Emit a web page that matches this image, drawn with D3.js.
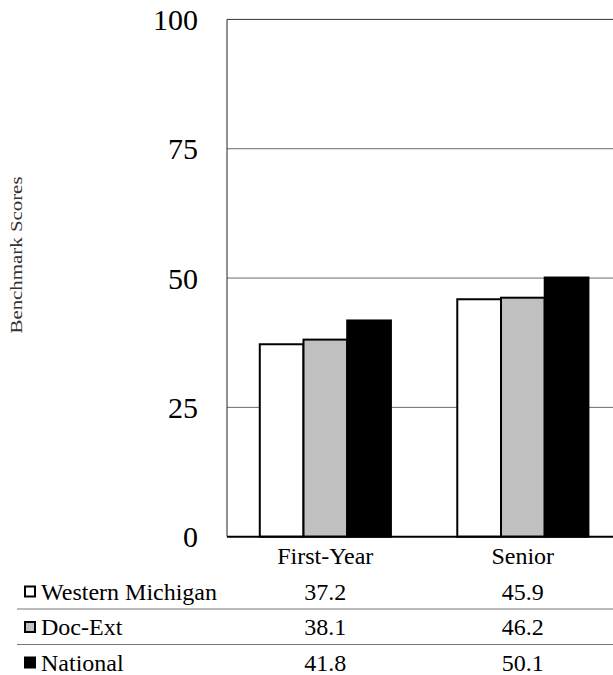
<!DOCTYPE html>
<html>
<head>
<meta charset="utf-8">
<script src="https://cdn.jsdelivr.net/npm/d3@7"></script>
<style>
  html, body { margin: 0; padding: 0; background: #fff; }
  svg { display: block; }
</style>
</head>
<body>
<svg id="chart" width="613" height="675" font-family="'Liberation Serif', Tinos, 'Times New Roman', Times, 'DejaVu Serif', serif"></svg>
<script>
const categories = ["First-Year", "Senior"];
const seriesNames = ["Western Michigan", "Doc-Ext", "National"];
const seriesColors = ["#ffffff", "#c0c0c0", "#000000"];
const westernMichigan = [37.2, 45.9];
const docExt = [38.1, 46.2];
const national = [41.8, 50.1];
const yTicks = [0, 25, 50, 75, 100];
const yLabel = "Benchmark Scores";

const seriesValues = [westernMichigan, docExt, national];

const FONT = "'Liberation Serif', Tinos, 'Times New Roman', Times, 'DejaVu Serif', serif";
const svg = d3.select("#chart");
const W = 613;
const plotLeft = 227, plotRight = 622, plotTop = 19.4, plotBottom = 536.7;

const y = d3.scaleLinear().domain([0, 100]).range([plotBottom, plotTop]);
const x0 = d3.scaleBand().domain(categories).range([plotLeft, plotRight]).padding(0);
const step = x0.bandwidth();
const x1 = d3.scaleBand().domain(seriesNames).range([step * 0.166, step * 0.830]).padding(0);

// gridlines
svg.append("g").selectAll("line")
  .data(yTicks.filter(t => t > 0))
  .join("line")
  .attr("x1", plotLeft).attr("x2", W)
  .attr("y1", d => y(d)).attr("y2", d => y(d))
  .attr("stroke", d => d === 100 ? "#333" : "#6a6a6a")
  .attr("stroke-width", 1);

// y axis line
svg.append("line")
  .attr("x1", plotLeft).attr("x2", plotLeft)
  .attr("y1", y(100)).attr("y2", y(0))
  .attr("stroke", "#222").attr("stroke-width", 1);

// bars
const groups = svg.append("g").selectAll("g")
  .data(categories)
  .join("g")
  .attr("transform", d => `translate(${x0(d)},0)`);

groups.selectAll("rect")
  .data((c, ci) => seriesNames.map((s, si) => ({ s, si, v: seriesValues[si][ci] })))
  .join("rect")
  .attr("x", d => x1(d.s))
  .attr("width", x1.bandwidth())
  .attr("y", d => y(d.v))
  .attr("height", d => y(0) - y(d.v))
  .attr("fill", d => seriesColors[d.si])
  .attr("stroke", "#000")
  .attr("stroke-width", 2);

// baseline
svg.append("line")
  .attr("x1", plotLeft).attr("x2", W)
  .attr("y1", y(0)).attr("y2", y(0))
  .attr("stroke", "#000").attr("stroke-width", 2);

// y tick labels
svg.append("g").selectAll("text")
  .data(yTicks)
  .join("text")
  .attr("x", 198)
  .attr("y", d => y(d))
  .attr("dy", "0.35em")
  .attr("text-anchor", "end")
  .attr("font-family", FONT)
  .attr("font-size", 30)
  .text(d => d);

// y axis title
svg.append("text")
  .attr("transform", "translate(22,255) rotate(-90)")
  .attr("text-anchor", "middle")
  .attr("font-family", FONT)
  .attr("font-size", 16)
  .attr("textLength", 157)
  .attr("lengthAdjust", "spacingAndGlyphs")
  .attr("fill", "#333")
  .text(yLabel);

// category labels
svg.append("g").selectAll("text")
  .data(categories)
  .join("text")
  .attr("x", d => x0(d) + step / 2 - 0.5)
  .attr("y", 556)
  .attr("dy", "0.35em")
  .attr("text-anchor", "middle")
  .attr("font-family", FONT)
  .attr("font-size", 24)
  .text(d => d);

// data table
const rowY = [591.5, 627, 662.5];
const sepY = [609, 644.5];

svg.append("g").selectAll("line")
  .data(sepY)
  .join("line")
  .attr("x1", 17).attr("x2", W)
  .attr("y1", d => d).attr("y2", d => d)
  .attr("stroke", "#777").attr("stroke-width", 1);

const rows = svg.append("g").selectAll("g")
  .data(seriesNames)
  .join("g")
  .attr("transform", (d, i) => `translate(0,${rowY[i]})`);

rows.append("rect")
  .attr("x", 25).attr("y", -5)
  .attr("width", 10).attr("height", 10)
  .attr("fill", (d, i) => seriesColors[i])
  .attr("stroke", "#000").attr("stroke-width", 2);

rows.append("text")
  .attr("x", 41)
  .attr("dy", "0.35em")
  .attr("font-family", FONT)
  .attr("font-size", 24)
  .text(d => d);

rows.selectAll("text.val")
  .data((d, i) => categories.map((c, ci) => ({ c, v: seriesValues[i][ci] })))
  .join("text")
  .attr("class", "val")
  .attr("x", d => x0(d.c) + step / 2 - 0.5)
  .attr("dy", "0.35em")
  .attr("text-anchor", "middle")
  .attr("font-family", FONT)
  .attr("font-size", 24)
  .text(d => d.v.toFixed(1));
</script>
</body>
</html>
